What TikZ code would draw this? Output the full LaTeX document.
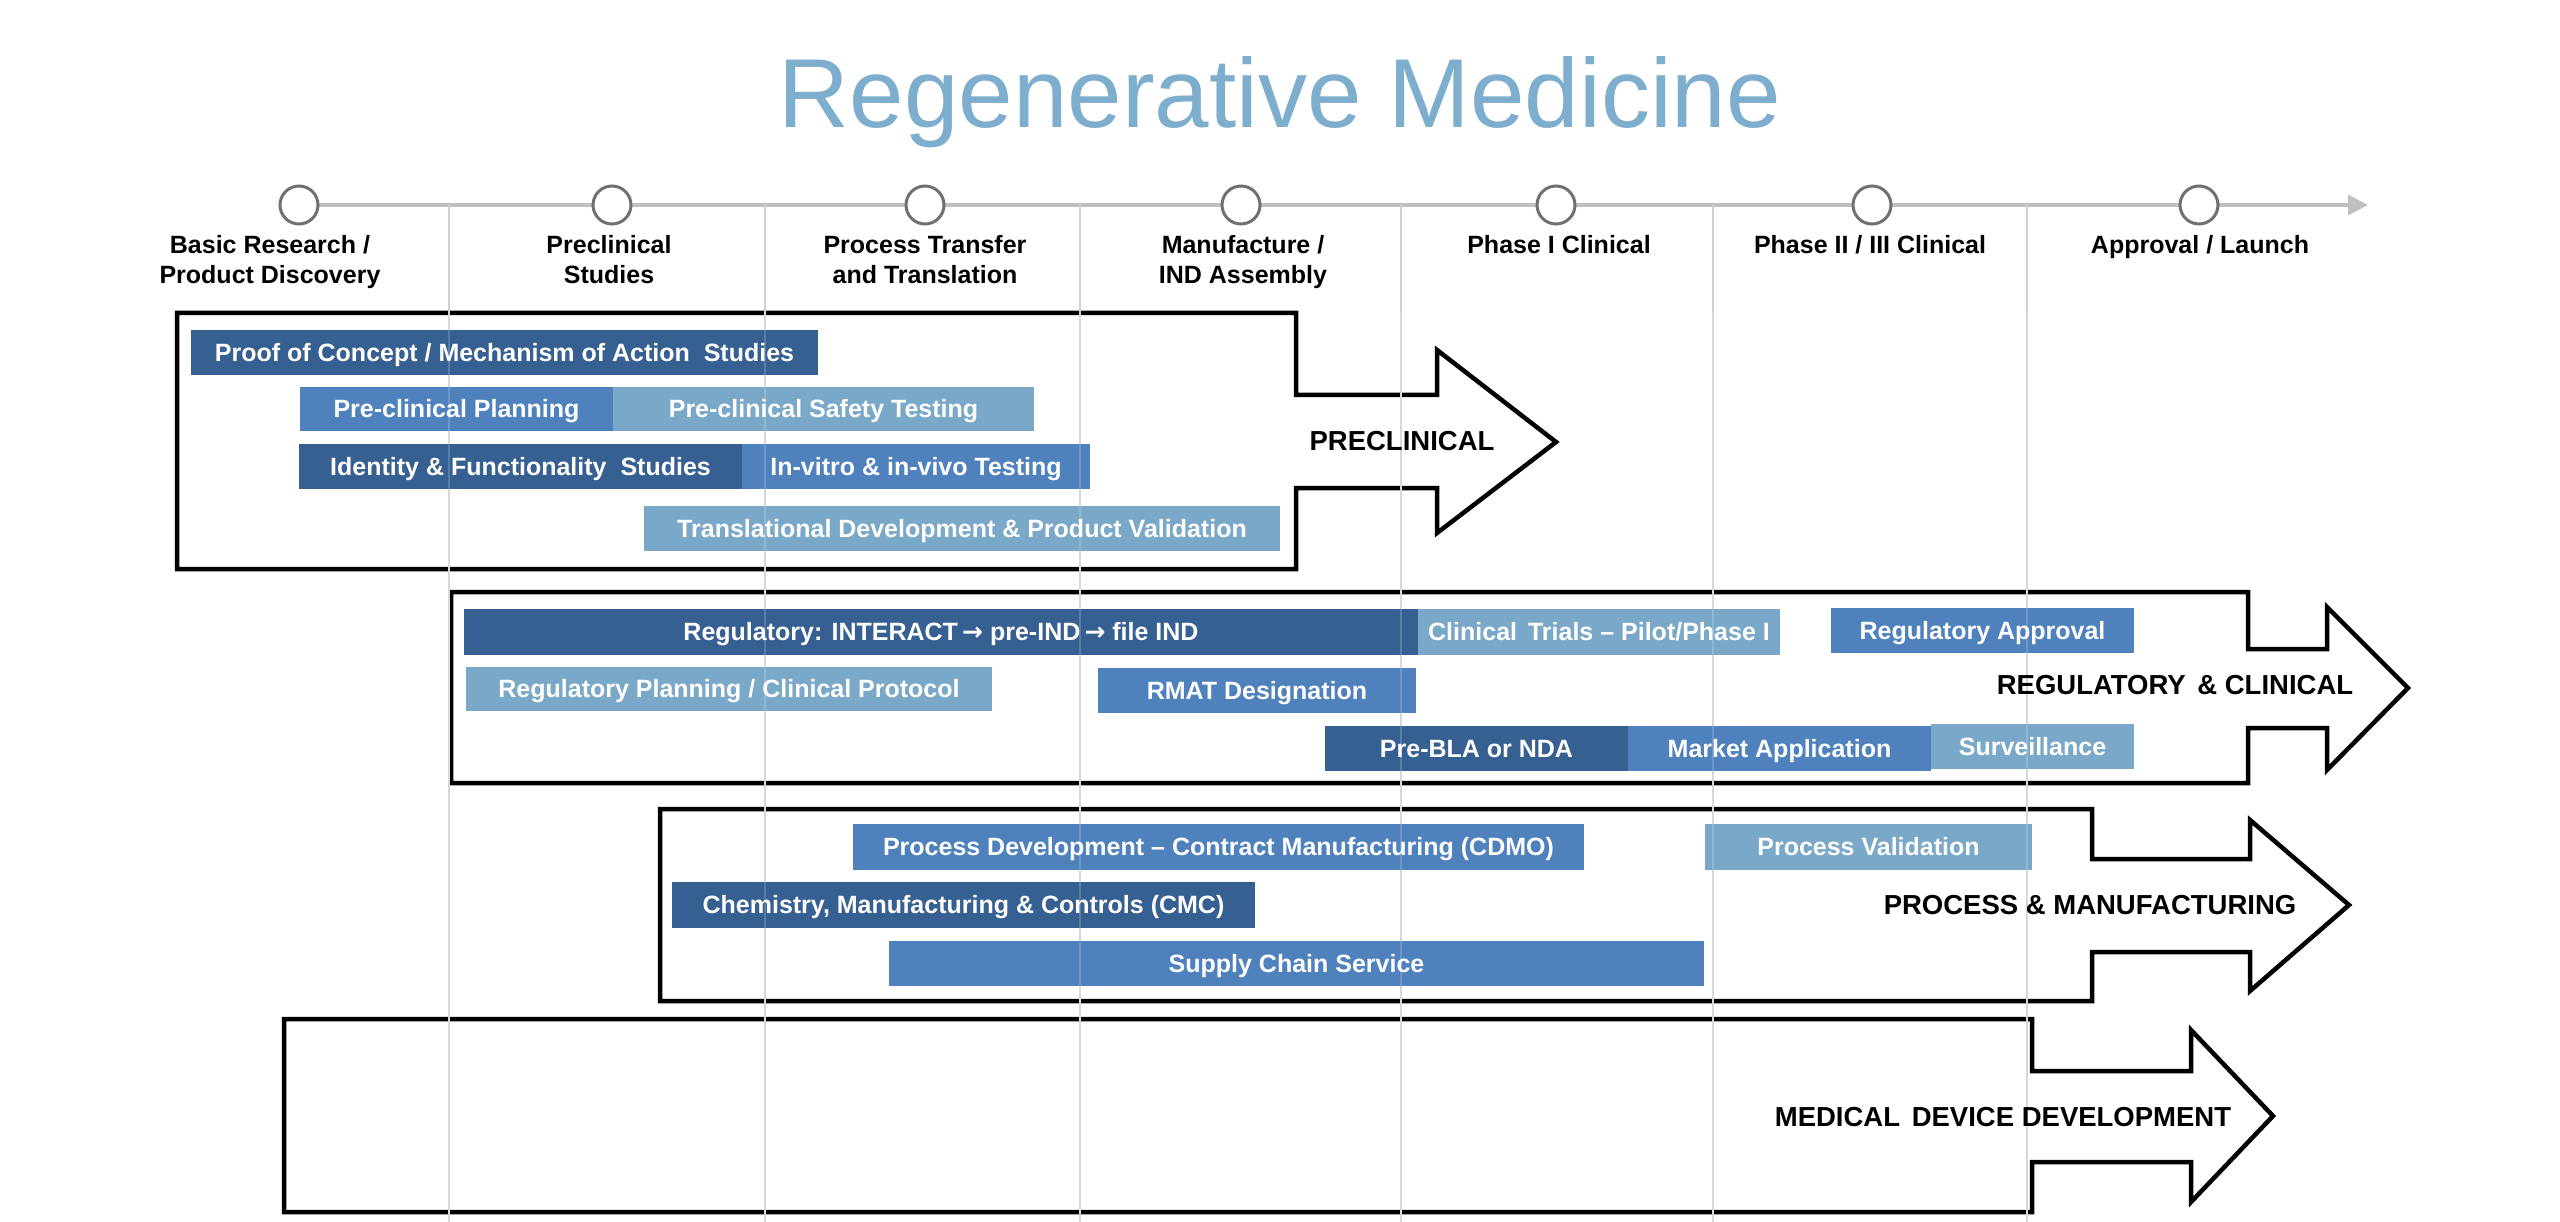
\documentclass[tikz,border=0pt]{standalone}
\usepackage{fontspec}
\setmainfont{Liberation Sans}
\newfontfamily\arrowfont{DejaVu Sans}
\usetikzlibrary{arrows.meta}
\definecolor{bardark}{RGB}{55,96,146}
\definecolor{barmid}{RGB}{79,129,189}
\definecolor{barlight}{RGB}{122,168,200}
\definecolor{titleblue}{RGB}{126,174,206}
\definecolor{tlgray}{RGB}{192,192,192}
\definecolor{circgray}{RGB}{112,112,112}
\definecolor{sepgray}{RGB}{208,208,208}
\tikzset{
 barnode/.style={inner sep=0pt, outer sep=0pt, text=white, font=\fontsize{25}{30}\selectfont\bfseries, text height=17.9pt, text depth=0pt},
 phaselabel/.style={align=center, font=\fontsize{25}{30}\selectfont\bfseries, anchor=base, inner sep=0pt},
 biglabel/.style={font=\fontsize{27.5}{33}\selectfont\bfseries, anchor=base, inner sep=0pt},
 bigarrow/.style={draw=black, line width=4.5pt, line join=miter},
 milestone/.style={circle, draw=circgray, line width=3pt, fill=white, minimum size=38pt, inner sep=0pt},
 timeline/.style={draw=tlgray, line width=3.5pt, -{Triangle[length=20pt,width=20pt]}},
 sepline/.style={draw=sepgray, line width=2pt},
 sepfaint/.style={draw=white, line width=2pt, opacity=0.18},
}
\newcommand{\mybar}[7]{\node[barnode, fill=#2, minimum width={(#5-#3)*1pt}, minimum height={(#6-#4)*1pt}] (#1) at ({(#3+#5)/2},{(#4+#6)/2}) {#7};}
\newcommand{\rarr}{{\arrowfont\bfseries →}}
\begin{document}
\begin{tikzpicture}[x=1pt,y=-1pt]
\useasboundingbox[fill=white] (0,0) rectangle (2560,1222);
% title
\node[font=\fontsize{98}{110}\selectfont, text=titleblue, anchor=base, inner sep=0pt] (title) at (1280,128) {Regenerative Medicine};
% timeline
\coordinate (tlstart) at (299,205);
\coordinate (tlend) at (2368,205);
\draw[timeline] (tlstart) -- (tlend);
% big arrows
\draw[bigarrow] (177,313) -- (1296,313) -- (1296,395) -- (1437,395) -- (1437,350) -- (1556,442) -- (1437,533) -- (1437,488) -- (1296,488) -- (1296,569) -- (177,569) -- cycle;
\draw[bigarrow] (451,592) -- (2248,592) -- (2248,649) -- (2327,649) -- (2327,607) -- (2408,688) -- (2327,770) -- (2327,728) -- (2248,728) -- (2248,783) -- (451,783) -- cycle;
\draw[bigarrow] (660,809) -- (2092,809) -- (2092,859) -- (2250,859) -- (2250,820) -- (2349,905) -- (2250,991) -- (2250,952) -- (2092,952) -- (2092,1001) -- (660,1001) -- cycle;
\draw[bigarrow] (284,1019) -- (2032,1019) -- (2032,1071) -- (2191,1071) -- (2191,1030) -- (2273,1116) -- (2191,1202) -- (2191,1162) -- (2032,1162) -- (2032,1212) -- (284,1212) -- cycle;
% separators
\foreach \sx in {449,765,1080,1401,1713,2027} {\draw[sepline] (\sx,205) -- (\sx,1222);}
% milestones
\node[milestone] (c1) at (299,205) {};
\node[milestone] (c2) at (612,205) {};
\node[milestone] (c3) at (925,205) {};
\node[milestone] (c4) at (1241,205) {};
\node[milestone] (c5) at (1556,205) {};
\node[milestone] (c6) at (1872,205) {};
\node[milestone] (c7) at (2199,205) {};
% phase labels
\node[phaselabel] (l1) at (270,284) {Basic Research /\\Product Discovery};
\node[phaselabel] (l2) at (609,284) {Preclinical\\Studies};
\node[phaselabel] (l3) at (925,284) {Process Transfer\\and Translation};
\node[phaselabel] (l4) at (1243,284) {Manufacture /\\IND Assembly};
\node[phaselabel] (l5) at (1559,254) {Phase I Clinical};
\node[phaselabel] (l6) at (1870,254) {Phase II / III Clinical};
\node[phaselabel] (l7) at (2200,254) {Approval / Launch};
% preclinical bars
\mybar{poc}{bardark}{191}{330}{818}{375}{Proof of Concept / Mechanism of Action\ \ Studies}
\mybar{pcp}{barmid}{300}{387}{613}{431}{Pre-clinical Planning}
\mybar{pcs}{barlight}{613}{387}{1034}{431}{Pre-clinical Safety Testing}
\mybar{ifs}{bardark}{299}{444}{742}{489}{Identity \& Functionality\ \ Studies}
\mybar{ivt}{barmid}{742}{444}{1090}{489}{In-vitro \& in-vivo Testing}
\mybar{tdv}{barlight}{644}{506}{1280}{551}{Translational Development \& Product Validation}
% regulatory bars
\mybar{reg}{bardark}{464}{609}{1418}{655}{Regulatory: INTERACT\,\rarr\ pre-IND\,\rarr\ file IND}
\mybar{ctp}{barlight}{1418}{609}{1780}{655}{Clinical\hspace{4pt} Trials -- Pilot/Phase I}
\mybar{rap}{barmid}{1831}{608}{2134}{653}{Regulatory Approval}
\mybar{rpc}{barlight}{466}{667}{992}{711}{Regulatory Planning / Clinical Protocol}
\mybar{rmat}{barmid}{1098}{668}{1416}{713}{RMAT Designation}
\mybar{pbla}{bardark}{1325}{726}{1628}{771}{Pre-BLA or NDA}
\mybar{mkt}{barmid}{1628}{726}{1931}{771}{Market Application}
\mybar{surv}{barlight}{1931}{724}{2134}{769}{Surveillance}
% process bars
\mybar{pdc}{barmid}{853}{824}{1584}{870}{Process Development -- Contract Manufacturing (CDMO)}
\mybar{pval}{barlight}{1705}{824}{2032}{870}{Process Validation}
\mybar{cmc}{bardark}{672}{882}{1255}{928}{Chemistry, Manufacturing \& Controls (CMC)}
\mybar{scs}{barmid}{889}{941}{1704}{986}{Supply Chain Service}
% faint separators over bars
\foreach \sx in {449,765,1080,1401,1713,2027} {\draw[sepfaint] (\sx,313) -- (\sx,1222);}
% big labels
\node[biglabel] (lpre) at (1402,450) {PRECLINICAL};
\node[biglabel] (lreg) at (2175,694) {REGULATORY\hspace{4pt} \& CLINICAL};
\node[biglabel] (lproc) at (2090,914) {PROCESS \& MANUFACTURING};
\node[biglabel] (lmed) at (2003,1126) {MEDICAL\hspace{4pt} DEVICE DEVELOPMENT};
\end{tikzpicture}
\end{document}
